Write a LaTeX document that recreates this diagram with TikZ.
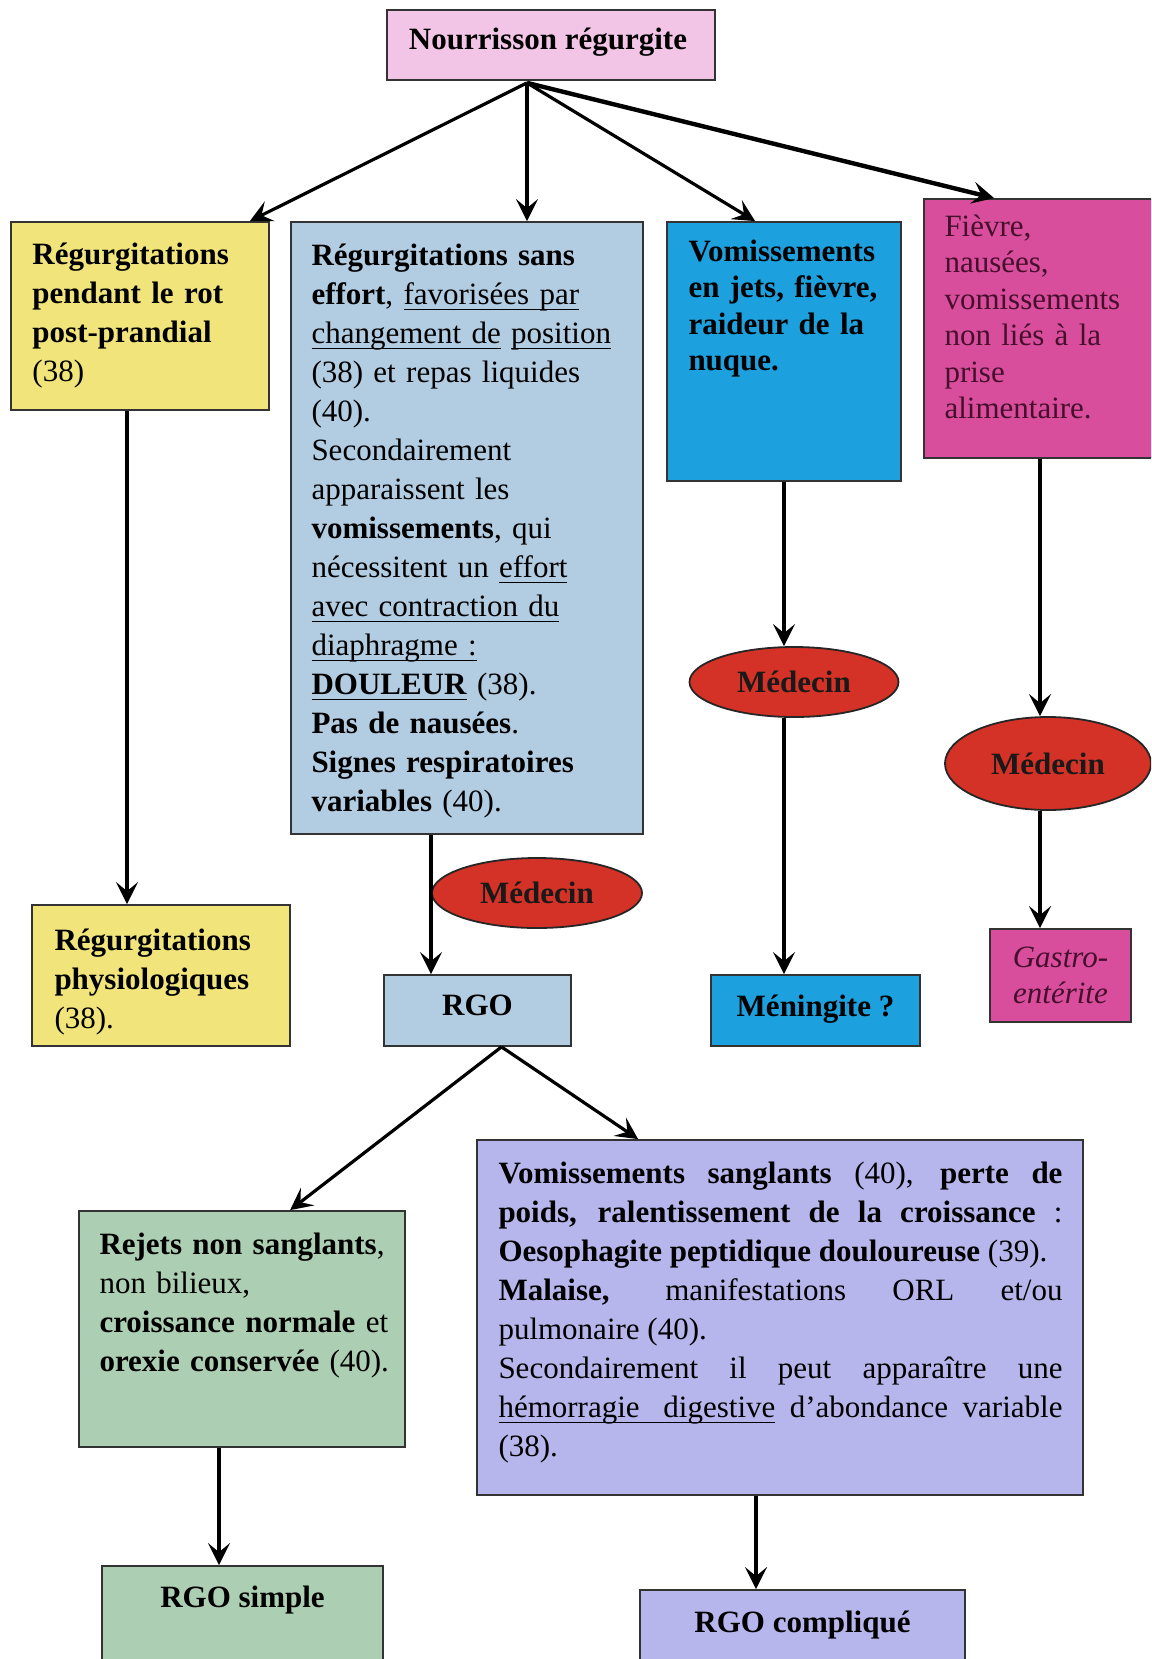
\documentclass[tikz,border=0pt]{standalone}
\usepackage{fontspec}
\setmainfont{Liberation Serif}
\usetikzlibrary{fit,shapes.geometric,arrows.meta}
\definecolor{cpink}{RGB}{242,196,230}
\definecolor{cyellow}{RGB}{240,228,122}
\definecolor{cblue}{RGB}{178,204,226}
\definecolor{ccyan}{RGB}{28,160,222}
\definecolor{cmag}{RGB}{216,78,156}
\definecolor{cred}{RGB}{212,50,38}
\definecolor{cgreen}{RGB}{172,206,178}
\definecolor{cpurple}{RGB}{182,182,236}
\definecolor{cmtext}{RGB}{70,15,45}
\hyphenpenalty=10000
\exhyphenpenalty=10000
\tolerance=9999
\newcommand{\myul}[1]{\leavevmode\setbox0\hbox{#1}\rlap{\rule[-3.1pt]{\wd0}{0.7pt}}\box0\relax}
\newcommand{\myulsp}{\leaders\vrule depth 3.1pt height -2.4pt\hskip 0.25em plus 0.3em minus 0.07em\relax}
\begin{document}
\begin{tikzpicture}[x=0.5pt,y=-0.5pt,
  box/.style={rectangle, draw=black!80, line width=0.9pt, inner sep=0pt},
  lbl/.style={inner sep=0pt, anchor=base west, align=left, font=\fontsize{15.5pt}{19.5pt}\selectfont},
  lblt/.style={inner sep=0pt, anchor=base west, align=left, font=\fontsize{15.5pt}{18.25pt}\selectfont},
  ttl/.style={inner sep=0pt, anchor=base, font=\bfseries\fontsize{15.5pt}{19.5pt}\selectfont},
  oval/.style={ellipse, draw=black!85, line width=0.9pt, fill=cred, inner sep=0pt, text=black!90, font=\bfseries\fontsize{15.5pt}{19.5pt}\selectfont},
  arr/.style={line width=1.6pt, -{Stealth[length=11pt,width=11pt,inset=4.5pt]}}]
\useasboundingbox (0,0) rectangle (1151,1659);
\fill[white] (0,0) rectangle (1151,1659);
\clip (0,0) rectangle (1151,1659);

% top
\node[box, fill=cpink, fit={(387,10)(715,80)}] (top) {};
\node[ttl] at ([shift={(-3,40)}]top.north) {Nourrisson régurgite};

% first row
\node[box, fill=cyellow, fit={(11,222)(269,410)}] (y1) {};
\node[lbl, text width=115pt] at ([shift={(22,43)}]y1.north west) {\textbf{Régurgitations}\\ \textbf{pendant le rot}\\ \textbf{post-prandial}\\ (38)};

\node[box, fill=cblue, fit={(291,222)(643,834)}] (blue) {};
\node[lbl, text width=160pt] at ([shift={(21,44)}]blue.north west) {\textbf{Régurgitations sans}\\
\textbf{effort}, \myul{favorisées par}\\
\myul{changement de} \myul{position}\\
(38) et repas liquides\\
(40).\\
Secondairement\\
apparaissent les\\
\textbf{vomissements}, qui\\
nécessitent un \myul{effort}\\
\myul{avec contraction du}\\
\myul{diaphragme :}\\
\myul{\textbf{DOULEUR}} (38).\\
\textbf{Pas de nausées}.\\
\textbf{Signes respiratoires}\\
\textbf{variables} (40).};

\node[box, fill=ccyan, fit={(667,222)(901,481)}] (cy) {};
\node[lblt, text width=108pt] at ([shift={(22,40)}]cy.north west) {\textbf{Vomissements}\\ \textbf{en jets, fièvre,}\\ \textbf{raideur de la}\\ \textbf{nuque.}};

\node[box, fill=cmag, fit={(924,199)(1156,458)}] (mag) {};
\node[lblt, text width=108pt, text=cmtext] at ([shift={(21,38)}]mag.north west) {Fièvre,\\ nausées,\\ vomissements\\ non liés à la\\ prise\\ alimentaire.};

% doctors
\node[oval, minimum width=105pt, minimum height=35pt] (m1) at (537,893) {Médecin};
\node[oval, minimum width=104.5pt, minimum height=35pt] (m2) at (794,682) {Médecin};
\node[oval, minimum width=103pt, minimum height=46.5pt] (m3) at (1048,763.5) {Médecin};

% second row
\node[box, fill=cyellow, fit={(32,905)(290,1046)}] (y2) {};
\node[lbl, text width=115pt] at ([shift={(23,46)}]y2.north west) {\textbf{Régurgitations}\\ \textbf{physiologiques}\\ (38).};

\node[box, fill=cblue, fit={(384,975)(571,1046)}] (rgo) {};
\node[ttl] at ([shift={(0,41)}]rgo.north) {RGO};
\node[box, fill=ccyan, fit={(711,975)(920,1046)}] (men) {};
\node[ttl] at ([shift={(0,42)}]men.north) {Méningite~?};
\node[box, fill=cmag, fit={(990,929)(1131,1022)}] (gas) {};
\node[inner sep=0pt, anchor=center, align=center, text=cmtext, font=\itshape\fontsize{15.5pt}{18pt}\selectfont] at (gas.center) {Gastro-\\entérite};

% third row
\node[box, fill=cgreen, fit={(79,1211)(405,1447)}] (green) {};
\node[lbl, text width=152pt] at ([shift={(21,44)}]green.north west) {\textbf{Rejets non sanglants},\\ non bilieux,\\ \textbf{croissance normale} et\\ \textbf{orexie conservée} (40).};

\node[box, fill=cpurple, fit={(477,1140)(1083,1495)}] (purple) {};
\node[lbl, text width=282pt, align=justify] at ([shift={(22,44)}]purple.north west) {\textbf{Vomissements sanglants} (40), \textbf{perte de}\linebreak
\textbf{poids, ralentissement de la croissance} :\linebreak
\textbf{Oesophagite peptidique douloureuse} (39).\\
\textbf{Malaise,} manifestations ORL et/ou\linebreak
pulmonaire (40).\\
Secondairement il peut apparaître une\linebreak
\myul{hémorragie}\myulsp\myul{digestive} d’abondance variable\linebreak
(38).};

% bottom row
\node[box, fill=cgreen, fit={(102,1566)(383,1720)}] (simple) {};
\node[ttl] at ([shift={(0,42)}]simple.north) {RGO simple};
\node[box, fill=cpurple, fit={(640,1590)(965,1720)}] (comp) {};
\node[ttl] at ([shift={(0,43)}]comp.north) {RGO compliqué};

% connectors
\coordinate (o) at ([xshift=-12pt,yshift=-1pt]top.south);
\draw[arr] (o) -- ([xshift=-10pt]y1.north east);
\draw[arr] (o) -- (o |- blue.north);
\draw[arr] (o) -- ([xshift=44.5pt]cy.north west);
\draw[arr, line width=2.2pt] (o) -- ([xshift=35.5pt]mag.north west);

\coordinate (c1) at ([xshift=-6.5pt]y1.south);
\draw[arr] (c1) -- (c1 |- y2.north);
\coordinate (c2) at ([xshift=-18pt]blue.south);
\draw[arr] (c2) -- (c2 |- rgo.north);
\draw[arr] (cy.south) -- (cy.south |- m2.north);
\draw[arr] (cy.south |- m2.south) -- (cy.south |- men.north);
\draw[arr] (mag.south) -- (mag.south |- m3.north);
\draw[arr] (mag.south |- m3.south) -- (mag.south |- gas.north);

\coordinate (r) at ([xshift=12pt]rgo.south);
\draw[arr] (r) -- ([xshift=106pt]green.north west);
\draw[arr] (r) -- ([xshift=81pt]purple.north west);
\coordinate (c3) at ([xshift=-11.5pt]green.south);
\draw[arr] (c3) -- (c3 |- simple.north);
\coordinate (c4) at ([xshift=-12pt]purple.south);
\draw[arr] (c4) -- (c4 |- comp.north);
\end{tikzpicture}
\end{document}
